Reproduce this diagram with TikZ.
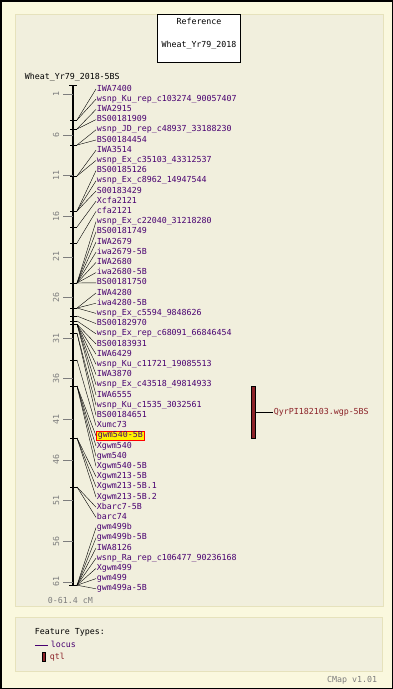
\documentclass[tikz,border=0pt]{standalone}
\usepackage{fontspec}
\setmonofont{DejaVu Sans Mono}
\usetikzlibrary{arrows.meta}
\tikzset{>=stealth}

\definecolor{pagebg}{RGB}{250,248,222}
\definecolor{panelbg}{RGB}{241,239,221}
\definecolor{panelrule}{RGB}{230,226,188}
\definecolor{locuscol}{RGB}{72,0,112}
\definecolor{qtlcol}{RGB}{140,34,40}
\definecolor{scalecol}{RGB}{125,125,125}

\tikzset{
  mapfont/.style={font=\ttfamily\fontsize{8.3}{9}\selectfont, inner sep=0.6pt,
    text height=5.8pt, text depth=1.6pt},
  locus/.style={mapfont, text=locuscol, anchor=west},
  hilite/.style={locus, fill=yellow, draw=red, line width=0.8pt, inner xsep=1.5pt},
  scalelab/.style={mapfont, text=scalecol},
  qtlbar/.style={draw=black, fill=qtlcol, line width=0.6pt, inner sep=0pt, minimum width=4pt},
}

\begin{document}
\begin{tikzpicture}[x=1pt, y=-1pt]
  % page and panels
  \fill[pagebg] (0,0) rectangle (393,689);
  \draw[line width=1.5pt] (0.75,0.75) rectangle (392.25,688.25);
  \draw[panelrule, fill=panelbg] (15,14) rectangle (383,606);
  \draw[panelrule, fill=panelbg] (15,617) rectangle (382,671);

  % reference box
  \node[draw, fill=white, line width=0.8pt, minimum width=83pt, minimum height=48pt] (refbox) at (199,38) {};
  \node[mapfont] (reftitle) at (199,22) {Reference};
  \node[mapfont] (refmap) at (199,45) {Wheat\_Yr79\_2018};

  \node[mapfont, anchor=west] (maptitle) at (24,77) {Wheat\_Yr79\_2018-5BS};

  % chromosome axis, 8.13px per cM from 86
  \draw[line width=2pt] (73,85) -- (73,585);
  \draw[line width=1pt] (69,85) -- (77,85);
  \draw[line width=1pt] (69,585) -- (77,585);
  \foreach \c in {1,6,...,61} {
    \pgfmathsetmacro\yy{86+8.13*\c}
    \draw[scalecol] (63,\yy) -- (73,\yy);
    \node[scalelab, rotate=90] (sc\c) at (57,\yy) {\c};
  }
  \node[scalelab, anchor=west] (range) at (47,601) {0-61.4 cM};

  % loci: name / position (cM) / style
  \foreach \name/\cm/\sty [count=\i] in {
      IWA7400/4.18/locus, wsnp\_Ku\_rep\_c103274\_90057407/4.18/locus,
      IWA2915/5.29/locus, BS00181909/5.29/locus,
      wsnp\_JD\_rep\_c48937\_33188230/7.26/locus, BS00184454/7.26/locus,
      IWA3514/11.07/locus, wsnp\_Ex\_c35103\_43312537/11.07/locus,
      BS00185126/15.38/locus, wsnp\_Ex\_c8962\_14947544/15.38/locus,
      S00183429/15.38/locus, Xcfa2121/17.34/locus, cfa2121/19.31/locus,
      wsnp\_Ex\_c22040\_31218280/24.23/locus, BS00181749/24.23/locus,
      IWA2679/24.23/locus, iwa2679-5B/24.23/locus, IWA2680/24.23/locus,
      iwa2680-5B/24.23/locus, BS00181750/24.23/locus,
      IWA4280/27.31/locus, iwa4280-5B/27.31/locus, wsnp\_Ex\_c5594\_9848626/27.31/locus,
      BS00182970/28.3/locus, wsnp\_Ex\_rep\_c68091\_66846454/28.9/locus,
      BS00183931/29.3/locus, IWA6429/29.3/locus, wsnp\_Ku\_c11721\_19085513/29.3/locus,
      IWA3870/29.3/locus, wsnp\_Ex\_c43518\_49814933/29.3/locus,
      IWA6555/29.3/locus, wsnp\_Ku\_c1535\_3032561/30.4/locus,
      BS00184651/30.4/locus, Xumc73/33.7/locus,
      gwm540-5B/36.9/hilite, Xgwm540/36.9/locus, gwm540/36.9/locus,
      Xgwm540-5B/36.9/locus, Xgwm213-5B/43.30/locus,
      Xgwm213-5B.1/43.30/locus, Xgwm213-5B.2/43.30/locus,
      Xbarc7-5B/49.32/locus, barc74/49.32/locus,
      gwm499b/61.4/locus, gwm499b-5B/61.4/locus, IWA8126/61.4/locus,
      wsnp\_Ra\_rep\_c106477\_90236168/61.4/locus, Xgwm499/61.4/locus,
      gwm499/61.4/locus, gwm499a-5B/61.4/locus} {
    \pgfmathsetmacro\my{86+8.13*\cm}
    \pgfmathsetmacro\ly{89+10.2*(\i-1)}
    \draw (70,\my) -- (77,\my) coordinate (mk\i);
    \node[\sty] (lab\i) at (96,\ly) {\name};
    \draw (mk\i) -- (lab\i.west);
  }

  % qtl
  \node[qtlbar, minimum height=52pt] (qtl) at (253,412) {};
  \node[mapfont, text=qtlcol, anchor=west] (qtllab) at (273,412) {QyrPI182103.wgp-5BS};
  \draw (qtl.east) -- (qtllab.west);

  % legend
  \node[mapfont, anchor=west] (legtitle) at (34,632) {Feature Types:};
  \coordinate (legline) at (35,645);
  \node[mapfont, text=locuscol, anchor=west] (leglocus) at (50,645) {locus};
  \draw[locuscol, line width=0.8pt] (legline) -- ([xshift=-2pt]leglocus.west);
  \node[qtlbar, minimum height=9pt, minimum width=3.5pt] (legbar) at (44,657) {};
  \node[mapfont, text=qtlcol, anchor=west] (legqtl) at (49,657) {qtl};

  \node[mapfont, text=scalecol, anchor=east] (version) at (378,680) {CMap v1.01};
\end{tikzpicture}
\end{document}
